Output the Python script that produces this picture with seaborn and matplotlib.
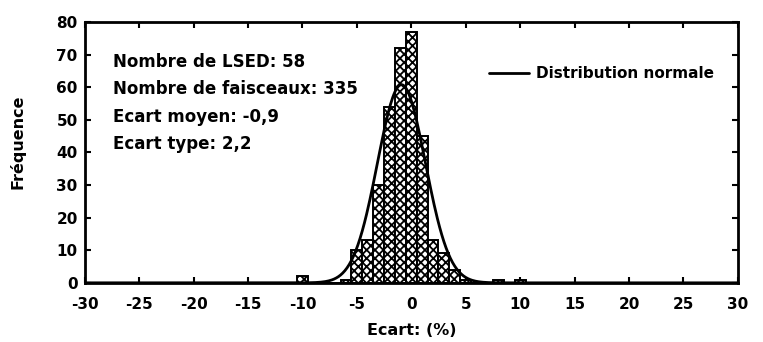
import numpy as np
import pandas as pd
import seaborn as sns
import matplotlib.pyplot as plt

# histogram of deviations (bin centres, 1 % wide bins)
ecart = [-10, -6, -5, -4, -3, -2, -1, 0, 1, 2, 3, 4, 5, 8, 10]
frequence = [2, 1, 10, 13, 30, 54, 72, 77, 45, 13, 9, 4, 1, 1, 1]

n_faisceaux = 335
ecart_moyen = -0.9
ecart_type = 2.2

infos = ["Nombre de LSED: 58", "Nombre de faisceaux: 335",
         "Ecart moyen: -0,9", "Ecart type: 2,2"]
x_ticks = list(range(-30, 31, 5))
y_ticks = list(range(0, 81, 10))

sns.set_style("ticks")
plt.rcParams["font.family"] = ["DejaVu Sans"]
plt.rcParams["axes.unicode_minus"] = False
plt.rcParams["text.color"] = "black"
plt.rcParams["axes.labelcolor"] = "black"
plt.rcParams["xtick.color"] = "black"
plt.rcParams["ytick.color"] = "black"
plt.rcParams["hatch.linewidth"] = 1.3

fig, ax = plt.subplots(figsize=(7.63, 3.42), dpi=100)
fig.subplots_adjust(left=0.111, right=0.967, top=0.936, bottom=0.173)

df = pd.DataFrame({"ecart": ecart, "freq": frequence})
sns.histplot(data=df, x="ecart", weights="freq", discrete=True, ax=ax,
             color="white", edgecolor="black", linewidth=1.4, hatch="xxxx", alpha=1)

# normal curve from the stated mean / std, scaled to counts
xs = np.linspace(-30, 30, 601)
ys = n_faisceaux / (ecart_type * np.sqrt(2 * np.pi)) * np.exp(-0.5 * ((xs - ecart_moyen) / ecart_type) ** 2)
sns.lineplot(x=xs, y=ys, ax=ax, color="black", linewidth=2, label="Distribution normale")

ax.set_xlim(-30, 30)
ax.set_ylim(0, 80)
ax.set_xticks(x_ticks)
ax.set_yticks(y_ticks)
ax.tick_params(direction="in", top=True, right=True, length=4, width=1.5,
               labelsize=11)
ax.tick_params(axis="x", pad=10)
ax.tick_params(axis="y", pad=5)
for lab in ax.get_xticklabels() + ax.get_yticklabels():
    lab.set_fontweight("bold")
for s in ax.spines.values():
    s.set_visible(True)
    s.set_linewidth(2)
    s.set_color("black")

ax.set_xlabel("Ecart: (%)", fontsize=11.5, fontweight="bold")
ax.xaxis.set_label_coords(0.5, -0.155)
ax.set_ylabel("Fréquence", fontsize=11.5, fontweight="bold")
ax.yaxis.set_label_coords(-0.09, 0.54)

for i, t in enumerate(infos):
    ax.text(0.043, 0.845 - i * 0.104, t, transform=ax.transAxes, fontsize=12,
            va="center", ha="left", fontweight="bold")

leg = ax.legend(loc="upper right", bbox_to_anchor=(0.985, 0.883), frameon=False,
                prop={"size": 11, "weight": "bold"}, handlelength=2.6, handletextpad=0.5)

fig.savefig("out.png", dpi=100)
